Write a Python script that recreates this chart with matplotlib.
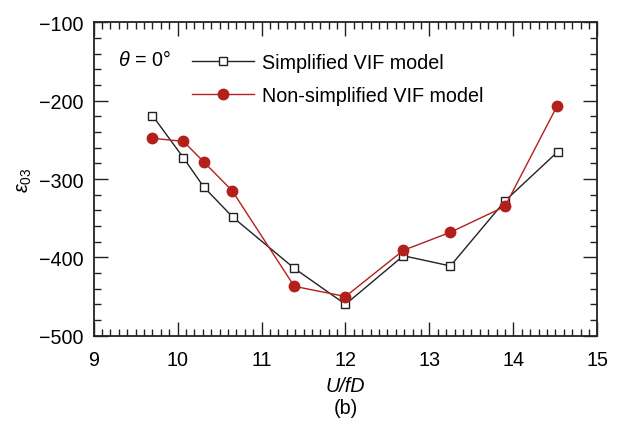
import matplotlib
matplotlib.use("Agg")
import matplotlib.pyplot as plt
from matplotlib.ticker import MultipleLocator

plt.rcParams['font.family'] = ['Liberation Sans', 'DejaVu Sans']
plt.rcParams['mathtext.fontset'] = 'custom'
plt.rcParams['mathtext.rm'] = 'Liberation Sans'
plt.rcParams['mathtext.it'] = 'Liberation Sans:italic'

x_simpl = [9.70, 10.07, 10.31, 10.66, 11.39, 12.00, 12.69, 13.25, 13.90, 14.53]
y_simpl = [-219, -273, -310, -349, -414, -460, -398, -411, -328, -265]
x_full = [9.70, 10.07, 10.31, 10.65, 11.39, 12.00, 12.69, 13.25, 13.90, 14.52]
y_full = [-248, -252, -278, -315, -437, -450, -391, -368, -335, -207]

red = '#B3201C'
fs = 14.2

fig = plt.figure(figsize=(6.22, 4.27), dpi=100)
ax = fig.add_axes([0.1506, 0.2115, 0.8097, 0.7339])

ax.plot(x_simpl, y_simpl, color='#222222', lw=1.0, marker='s', ms=6,
        mfc='white', mec='#222222', mew=1.0, label='Simplified VIF model')
ax.plot(x_full, y_full, color=red, lw=1.0, marker='o', ms=7.5,
        mfc=red, mec=red, label='Non-simplified VIF model')

ax.set_xlim(9, 15)
ax.set_ylim(-500, -100)
ax.xaxis.set_major_locator(MultipleLocator(1))
ax.xaxis.set_minor_locator(MultipleLocator(0.1))
ax.yaxis.set_minor_locator(MultipleLocator(20))
ax.set_yticks([-500, -400, -300, -200, -100])
ax.set_yticklabels(['\u2212500', '\u2212400', '\u2212300', '\u2212200', '\u2212100'])
ax.tick_params(which='both', direction='in', top=True, right=True, width=1.0,
               labelsize=fs, color='#222222')
ax.tick_params(which='major', length=10)
ax.tick_params(axis='x', which='major', pad=10)
ax.tick_params(axis='y', which='major', pad=7)
ax.tick_params(which='minor', length=5)
for s in ax.spines.values():
    s.set_linewidth(1.3)
    s.set_color('#222222')

ax.set_xlabel('U/fD', fontsize=fs, style='italic', labelpad=5)
ax.set_ylabel(r'$\varepsilon_{03}$', fontsize=fs, labelpad=4)
fig.text(0.5556, 0.044, '(b)', fontsize=fs, ha='center', va='center')

ax.text(0.048, 0.883, r'$\theta$ = 0°', transform=ax.transAxes, fontsize=fs,
        ha='left', va='center')
leg = ax.legend(loc='upper left', bbox_to_anchor=(0.172, 0.939), frameon=False,
                fontsize=fs, handlelength=3.15, handletextpad=0.4,
                labelspacing=0.7, borderaxespad=0.2)

fig.savefig('out.png', dpi=100)
